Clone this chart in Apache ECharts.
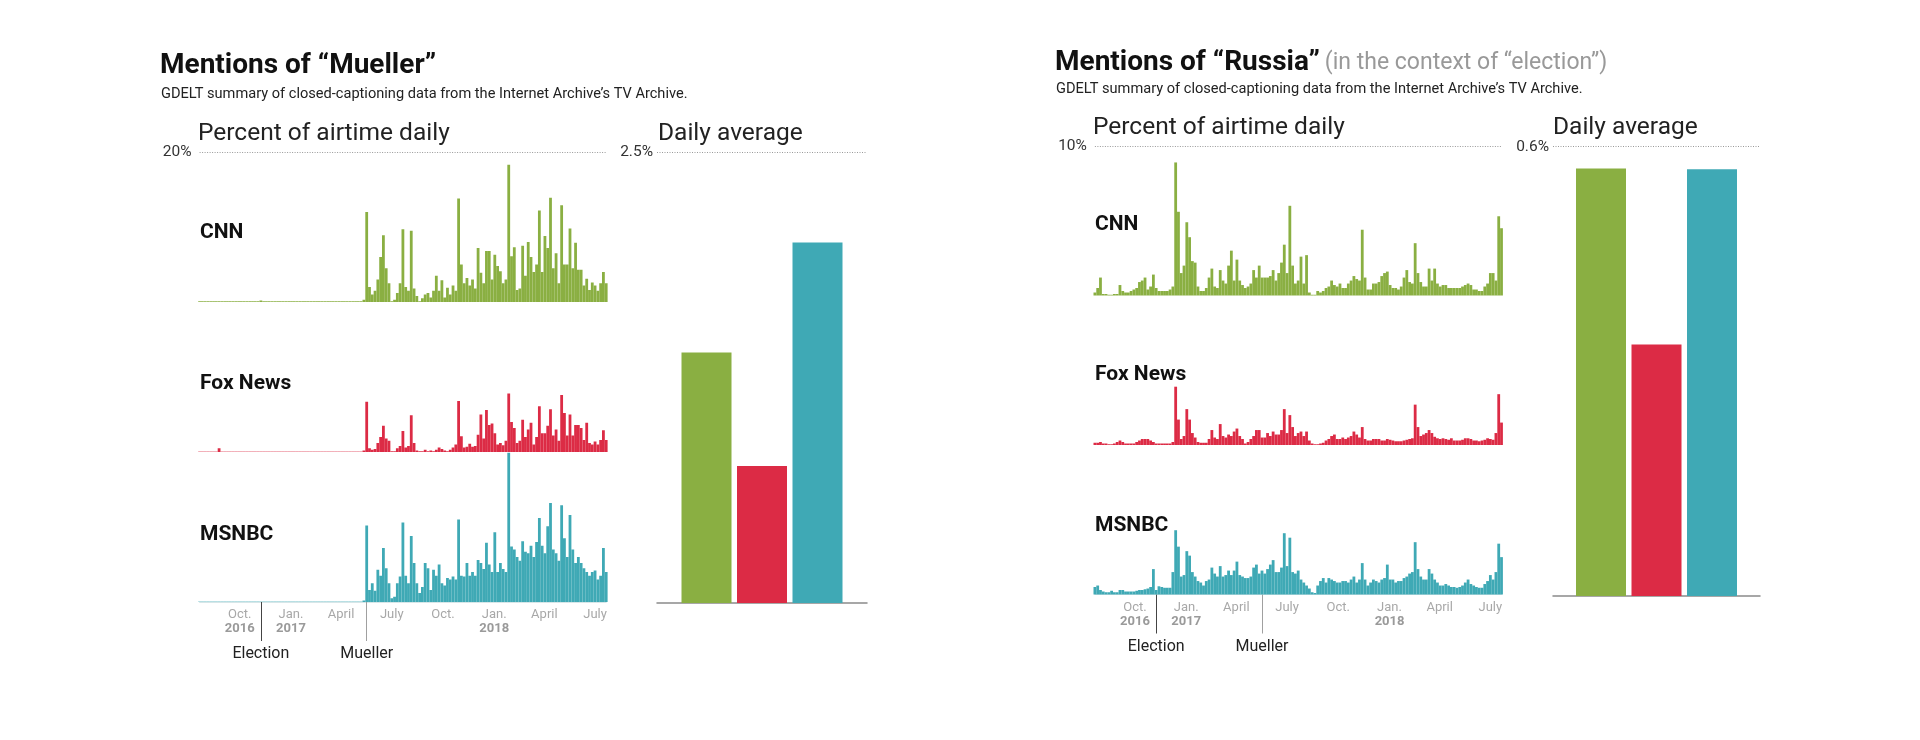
<!DOCTYPE html>
<html>
<head>
<meta charset="utf-8">
<title>Mentions of Mueller and Russia</title>
<script src="https://cdn.jsdelivr.net/npm/echarts@6/dist/echarts.min.js"></script>
<style>
  html, body { margin: 0; padding: 0; background: #fff; }
  #chart { width: 1920px; height: 740px; }
</style>
</head>
<body>
<div id="chart"></div>
<script>
// time window of the daily panels, one value every 5 days
const startDate = '2016-07-21';
const stepDays = 5;
const endDay = 730;

// x axis ticks
const tickDates = ['2016-10-01', '2017-01-01', '2017-04-01', '2017-07-01', '2017-10-01', '2018-01-01', '2018-04-01', '2018-07-01'];
const tickMonths = ['Oct.', 'Jan.', 'April', 'July', 'Oct.', 'Jan.', 'April', 'July'];
const tickYears = ['2016', '2017', '', '', '', '2018', '', ''];
const eventDates = ['2016-11-08', '2017-05-17'];
const eventNames = ['Election', 'Mueller'];

const channels = ['CNN', 'Fox News', 'MSNBC'];
const colors = ['#8aaf42', '#dc2b45', '#3fa9b5'];

// "Mueller" - percent of airtime, every 5 days from 2016-07-21
const muellerCNN = [
  0.1, 0.1, 0.1, 0.1, 0.1, 0.1, 0.1, 0.1, 0.1, 0.1,
  0.1, 0.1, 0.1, 0.1, 0.1, 0.1, 0.1, 0.1, 0.1, 0.1,
  0.1, 0.1, 0.2, 0.1, 0.1, 0.1, 0.1, 0.1, 0.1, 0.1,
  0.1, 0.1, 0.1, 0.1, 0.1, 0.1, 0.1, 0.1, 0.1, 0.1,
  0.1, 0.1, 0.1, 0.1, 0.1, 0.1, 0.1, 0.1, 0.1, 0.1,
  0.1, 0.1, 0.1, 0.1, 0.1, 0.1, 0.1, 0.1, 0.1, 0.3,
  12, 2, 1, 1.5, 3, 6, 8.9, 4.5, 2.5, 0.1,
  0.3, 1.2, 2.5, 9.7, 2, 1.5, 9.5, 1.8, 0.8, 0.1,
  0.5, 1, 1.2, 0.6, 1.5, 3.5, 1.5, 2.9, 0.6, 1.9,
  1.0, 2.2, 1.5, 13.8, 5, 2.5, 3.2, 2.2, 3.0, 1.8,
  7.2, 3.9, 2.5, 6.8, 6.8, 3, 6.3, 4.8, 4.1, 2.5,
  3.0, 18.3, 6.1, 7.3, 1.6, 1.8, 7.5, 3.5, 8.0, 6.0,
  4, 5, 12.2, 4, 8.8, 7.2, 13.9, 4.5, 6.5, 2.5,
  12.9, 5, 5.0, 9.8, 4.5, 7.9, 4.3, 4.3, 2.2, 3.1,
  1.6, 2.6, 2.2, 1.5, 2.5, 4.0, 2.5
];
const muellerFox = [
  0.05, 0.05, 0.05, 0.05, 0.05, 0.05, 0.05, 0.5, 0.05, 0.05,
  0.05, 0.05, 0.05, 0.05, 0.05, 0.05, 0.05, 0.05, 0.05, 0.05,
  0.05, 0.05, 0.05, 0.05, 0.05, 0.05, 0.05, 0.05, 0.05, 0.05,
  0.05, 0.05, 0.05, 0.05, 0.05, 0.05, 0.05, 0.05, 0.05, 0.05,
  0.05, 0.05, 0.05, 0.05, 0.05, 0.05, 0.05, 0.05, 0.05, 0.05,
  0.05, 0.05, 0.05, 0.05, 0.05, 0.05, 0.05, 0.05, 0.05, 0.2,
  6.7, 0.5, 0.3, 0.4, 1.2, 2, 3.5, 1.8, 1.5, 0.1,
  0.1, 0.5, 0.8, 2.8, 0.6, 0.8, 4.9, 1.2, 0.2, 0.1,
  0.1, 0.3, 0.1, 0.2, 0.1, 0.3, 0.6, 0.4, 0.2, 0.1,
  0.3, 0.6, 1.0, 6.8, 2.1, 0.6, 0.7, 1.1, 0.7, 0.8,
  2.3, 5.0, 1.8, 5.6, 3.6, 3.8, 2.5, 1.0, 1.2, 0.9,
  1.5, 7.8, 4, 3.2, 1.2, 1.5, 4.3, 2, 3.0, 3.9,
  1.0, 2, 6.1, 2.5, 2.5, 3.5, 5.7, 2.2, 3.0, 1.5,
  7.6, 5.2, 2.2, 5.0, 2.2, 3.6, 3.6, 3.2, 1.6, 3.9,
  1.2, 1.0, 1.4, 1.0, 1.6, 2.9, 1.6
];
const muellerMSNBC = [
  0.05, 0.05, 0.05, 0.05, 0.05, 0.05, 0.05, 0.05, 0.05, 0.05,
  0.05, 0.05, 0.05, 0.05, 0.05, 0.05, 0.05, 0.05, 0.05, 0.05,
  0.05, 0.05, 0.05, 0.05, 0.05, 0.05, 0.05, 0.05, 0.05, 0.05,
  0.05, 0.05, 0.05, 0.05, 0.05, 0.05, 0.05, 0.05, 0.05, 0.05,
  0.05, 0.05, 0.05, 0.05, 0.05, 0.05, 0.05, 0.05, 0.05, 0.05,
  0.05, 0.05, 0.05, 0.05, 0.05, 0.05, 0.05, 0.05, 0.05, 0.2,
  10.2, 1.6, 2.5, 1.5, 4.3, 3.5, 7.2, 4.5, 2.5, 0.5,
  0.7, 2.5, 3.4, 10.6, 3.5, 2.5, 8.8, 5.2, 2.5, 1.2,
  2.0, 5.2, 4.5, 1.6, 4.3, 3.5, 5.0, 2.5, 2.2, 3.2,
  3, 3.4, 3.0, 11.0, 3.5, 3.4, 5.2, 3.5, 4.0, 3.5,
  5.6, 5.2, 4.4, 7.9, 5, 4.0, 9.3, 4.0, 5.2, 4.4,
  4.0, 19.9, 7.4, 7.0, 6.0, 5.5, 8.1, 6.7, 6.5, 7.5,
  6.0, 8, 11.2, 7.5, 6.5, 10.1, 13.2, 7.0, 6.5, 5.5,
  12.9, 8.5, 6.0, 11.6, 7.0, 5.2, 6.0, 5.2, 4.5, 4.0,
  3.5, 4.0, 4.2, 3.0, 3.5, 7.2, 4.0
];

// "Russia" (election context) - percent of airtime, every 5 days from 2016-07-21
const russiaCNN = [
  0.2, 0.5, 1.2, 0.1, 0.1, 0.05, 0.05, 0.1, 0.1, 0.7,
  0.3, 0.2, 0.2, 0.3, 0.4, 0.5, 0.9, 1.0, 1.2, 0.4,
  0.6, 1.4, 0.5, 0.3, 0.3, 0.3, 0.3, 0.4, 0.6, 8.9,
  5.6, 1.5, 2, 4.9, 3.9, 2.3, 2.2, 0.6, 0.3, 0.3,
  0.5, 1.2, 1.8, 0.6, 0.5, 1.7, 1, 0.8, 2.0, 3.0,
  1.0, 2.4, 1.0, 0.7, 0.5, 0.6, 0.8, 1.7, 1.2, 2.0,
  1.2, 1.2, 1.2, 1.3, 1.7, 1.0, 1.5, 2.2, 3.4, 1.5,
  6.0, 2.0, 0.8, 1.0, 2.6, 0.8, 2.7, 0.2, 0.05, 0.05,
  0.3, 0.2, 0.3, 0.5, 0.6, 1.0, 0.7, 0.6, 0.8, 0.5,
  0.5, 0.8, 1.0, 1.3, 1.1, 1.0, 4.4, 1.2, 0.4, 0.4,
  0.8, 0.8, 0.9, 1.3, 1.5, 1.6, 0.7, 0.5, 0.5, 0.4,
  0.6, 1.2, 1.7, 0.9, 0.8, 3.5, 1.5, 0.9, 0.6, 0.6,
  1.8, 1.0, 1.8, 0.8, 0.6, 0.7, 0.7, 0.5, 0.5, 0.5,
  0.5, 0.5, 0.6, 0.7, 0.8, 0.7, 0.4, 0.4, 0.3, 0.3,
  0.6, 0.8, 1.5, 1.5, 1.0, 5.3, 4.5
];
const russiaFox = [
  0.15, 0.15, 0.2, 0.1, 0.1, 0.05, 0.05, 0.1, 0.2, 0.3,
  0.2, 0.1, 0.1, 0.1, 0.1, 0.2, 0.3, 0.4, 0.4, 0.4,
  0.3, 0.2, 0.1, 0.1, 0.1, 0.1, 0.1, 0.1, 0.2, 3.9,
  1.7, 0.4, 0.6, 2.4, 1.7, 0.8, 0.5, 0.2, 0.15, 0.15,
  0.15, 0.4, 1.0, 0.5, 0.4, 1.4, 0.6, 0.5, 0.7, 0.6,
  0.9, 1.1, 0.6, 0.4, 0.1, 0.2, 0.4, 0.6, 1.0, 1.0,
  0.5, 0.5, 0.8, 0.6, 0.9, 0.7, 0.7, 1.0, 2.4, 0.8,
  2.0, 1.2, 0.6, 0.8, 0.9, 0.6, 0.9, 0.3, 0.1, 0.05,
  0.05, 0.1, 0.15, 0.3, 0.4, 0.6, 0.7, 0.4, 0.4, 0.5,
  0.4, 0.5, 0.6, 0.9, 0.7, 0.5, 1.2, 0.4, 0.3, 0.3,
  0.4, 0.4, 0.4, 0.3, 0.3, 0.4, 0.35, 0.3, 0.25, 0.25,
  0.25, 0.3, 0.35, 0.4, 0.45, 2.7, 1.2, 0.6, 0.7, 0.8,
  1.0, 0.8, 0.55, 0.45, 0.4, 0.45, 0.4, 0.35, 0.45, 0.3,
  0.3, 0.3, 0.35, 0.45, 0.45, 0.4, 0.3, 0.3, 0.25, 0.3,
  0.35, 0.45, 0.4, 0.35, 0.8, 3.4, 1.5
];
const russiaMSNBC = [
  0.5, 0.6, 0.3, 0.2, 0.15, 0.15, 0.25, 0.15, 0.15, 0.3,
  0.3, 0.2, 0.2, 0.2, 0.2, 0.25, 0.3, 0.3, 0.35, 0.4,
  0.5, 1.7, 0.3, 0.55, 0.5, 0.45, 0.45, 0.45, 1.5, 4.3,
  3.2, 1.2, 1.3, 2.9, 2.6, 1.5, 1.2, 0.9, 0.8, 0.6,
  0.9, 1.0, 1.8, 1.4, 1.2, 1.9, 1.2, 1.3, 1.6, 1.3,
  1.6, 2.2, 1.3, 1.2, 1.1, 1.1, 1.2, 1.8, 2.0, 1.4,
  1.6, 1.4, 1.7, 2.0, 2.3, 1.5, 1.5, 1.8, 4.1, 1.9,
  3.8, 1.5, 1.4, 1.6, 1.0, 0.8, 0.6, 0.4, 0.15, 0.1,
  0.6, 0.9, 1.1, 0.8, 1.1, 1.0, 0.9, 0.8, 0.8, 0.9,
  0.9, 0.8, 1.0, 1.2, 0.8, 1.0, 2.1, 1.0, 0.6, 0.8,
  1.0, 0.9, 0.8, 1.0, 1.1, 2.0, 1.0, 1.0, 0.8, 0.9,
  0.9, 1.1, 1.2, 1.4, 1.5, 3.5, 1.7, 1.2, 1.0, 1.0,
  1.7, 1.4, 1.0, 0.8, 0.6, 0.6, 0.7, 0.6, 0.5, 0.5,
  0.45, 0.5, 0.6, 0.8, 1.0, 0.7, 0.6, 0.5, 0.45, 0.45,
  0.7, 0.9, 1.3, 1.0, 1.5, 3.4, 2.5
];

// daily averages (percent of airtime)
const muellerAvg = [1.39, 0.76, 2.0];
const russiaAvg = [0.571, 0.336, 0.570];

const FONT = 'Roboto, "Noto Sans", sans-serif';

function dayOf(d) {
  return Math.round((Date.parse(d) - Date.parse(startDate)) / 864e5);
}
const tickDays = tickDates.map(dayOf);
const eventDays = eventDates.map(dayOf);

function toPairs(values) {
  return values.map((v, i) => [i * stepDays, v]);
}

// layout of the two panels
const panels = [
  {
    left: 199.6, tops: [152, 302, 452], h: 150, w: 406.6, yMax: 20,
    series: [muellerCNN, muellerFox, muellerMSNBC],
    bar: { left: 657, top: 152.3, width: 210, height: 450.7, max: 2.5, values: muellerAvg }
  },
  {
    left: 1094.9, tops: [146, 295.5, 445], h: 149.5, w: 406.6, yMax: 10,
    series: [russiaCNN, russiaFox, russiaMSNBC],
    bar: { left: 1553, top: 146.7, width: 207, height: 449.3, max: 0.6, values: russiaAvg }
  }
];

const grid = [], xAxis = [], yAxis = [], series = [];
const dotted = { type: [1, 1.5], color: '#9a9a9a', width: 1 };

panels.forEach(p => {
  p.tops.forEach((top, c) => {
    const gi = grid.length;
    grid.push({ left: p.left, top: top, width: p.w, height: p.h });
    const isLast = c === 2;
    const xi = xAxis.length;
    xAxis.push({
      type: 'value', gridIndex: gi, min: 0, max: endDay,
      show: isLast,
      axisLine: { show: isLast, lineStyle: { color: '#d7e6e8', width: 1 } },
      axisTick: { show: false },
      splitLine: { show: false },
      axisLabel: {
        show: isLast,
        customValues: tickDays,
        margin: 6,
        formatter: v => {
          const i = tickDays.indexOf(v);
          if (i < 0) return '';
          return tickYears[i] ? '{m|' + tickMonths[i] + '}\n{y|' + tickYears[i] + '}' : '{m|' + tickMonths[i] + '}';
        },
        rich: {
          m: { fontFamily: FONT, fontSize: 13, color: '#a8a8a8', lineHeight: 14 },
          y: { fontFamily: FONT, fontSize: 13, fontWeight: 'bold', color: '#9a9a9a', lineHeight: 14 }
        }
      }
    });
    if (isLast) {
      // election / mueller markers below the axis
      eventDays.forEach((d, k) => {
        xAxis.push({
          type: 'value', gridIndex: gi, min: 0, max: endDay, position: 'bottom',
          axisLine: { show: false },
          splitLine: { show: false },
          axisTick: { show: true, customValues: [d], length: 39, lineStyle: { color: k === 0 ? '#444' : '#a0a0a0', width: 1 } },
          axisLabel: {
            customValues: [d], margin: 44,
            formatter: () => eventNames[k],
            fontFamily: FONT, fontSize: 16, color: '#222'
          }
        });
      });
    }
    const yi = yAxis.length;
    yAxis.push({
      type: 'value', gridIndex: gi, min: 0, max: p.yMax, interval: p.yMax,
      show: c === 0,
      axisLine: { show: false }, axisTick: { show: false }, splitLine: { show: false },
      axisLabel: {
        show: c === 0, customValues: [p.yMax], formatter: '{value}%', margin: 8,
        fontFamily: FONT, fontSize: 15.5, color: '#333'
      }
    });
    const s = {
      type: 'bar', name: channels[c], xAxisIndex: xi, yAxisIndex: yi,
      data: toPairs(p.series[c]),
      barWidth: 2.8, silent: true, clip: true,
      itemStyle: { color: colors[c] },
      z: 3
    };
    if (c === 0) {
      s.markLine = {
        silent: true, symbol: 'none', label: { show: false },
        lineStyle: dotted, data: [{ yAxis: p.yMax }]
      };
    }
    series.push(s);
  });

  // daily average bars
  const b = p.bar;
  const gi = grid.length;
  grid.push({ left: b.left, top: b.top, width: b.width, height: b.height });
  const xi = xAxis.length;
  xAxis.push({
    type: 'category', gridIndex: gi, data: ['Daily average'],
    axisLine: { lineStyle: { color: '#8a8a8a', width: 1.5 } },
    axisTick: { show: false }, axisLabel: { show: false }
  });
  const yi = yAxis.length;
  yAxis.push({
    type: 'value', gridIndex: gi, min: 0, max: b.max, interval: b.max,
    axisLine: { show: false }, axisTick: { show: false }, splitLine: { show: false },
    axisLabel: {
      customValues: [b.max], formatter: '{value}%', margin: 4,
      fontFamily: FONT, fontSize: 15.5, color: '#333'
    }
  });
  channels.forEach((name, c) => {
    const s = {
      type: 'bar', name: name, xAxisIndex: xi, yAxisIndex: yi,
      data: [b.values[c]], barWidth: 50, barGap: '11%',
      itemStyle: { color: colors[c] }, silent: true
    };
    if (c === 0) {
      s.markLine = {
        silent: true, symbol: 'none', label: { show: false },
        lineStyle: dotted, data: [{ yAxis: b.max }]
      };
    }
    series.push(s);
  });
});

const sub = 'GDELT summary of closed-captioning data from the Internet Archive\u2019s TV Archive.';
function txt(text, left, top, size, weight, color) {
  return {
    text: text, left: left, top: top, padding: 0,
    textStyle: { fontFamily: FONT, fontSize: size, fontWeight: weight || 'normal', color: color || '#222' }
  };
}

const title = [
  txt('Mentions of \u201cMueller\u201d', 160, 52, 28, 'bold', '#111'),
  txt(sub, 161, 87, 14.6, 'normal', '#222'),
  txt('Percent of airtime daily', 198, 121, 24.5),
  txt('Daily average', 658, 121, 24.5),
  txt('CNN', 200, 222, 21, 'bold', '#111'),
  txt('Fox News', 200, 373, 21, 'bold', '#111'),
  txt('MSNBC', 200, 524, 21, 'bold', '#111'),
  {
    text: '{b|Mentions of \u201cRussia\u201d} {g|(in the context of \u201celection\u201d)}',
    left: 1055, top: 49, padding: 0,
    textStyle: {
      fontWeight: 'normal',
      rich: {
        b: { fontFamily: FONT, fontSize: 28, fontWeight: 'bold', color: '#111' },
        g: { fontFamily: FONT, fontSize: 23, fontWeight: 'normal', color: '#999' }
      }
    }
  },
  txt(sub, 1056, 82, 14.6, 'normal', '#222'),
  txt('Percent of airtime daily', 1093, 115, 24.5),
  txt('Daily average', 1553, 115, 24.5),
  txt('CNN', 1095, 214, 21, 'bold', '#111'),
  txt('Fox News', 1095, 364, 21, 'bold', '#111'),
  txt('MSNBC', 1095, 515, 21, 'bold', '#111')
];

const chart = echarts.init(document.getElementById('chart'));
chart.setOption({
  backgroundColor: '#fff',
  animation: false,
  title: title,
  grid: grid,
  xAxis: xAxis,
  yAxis: yAxis,
  series: series
});
</script>
</body>
</html>
